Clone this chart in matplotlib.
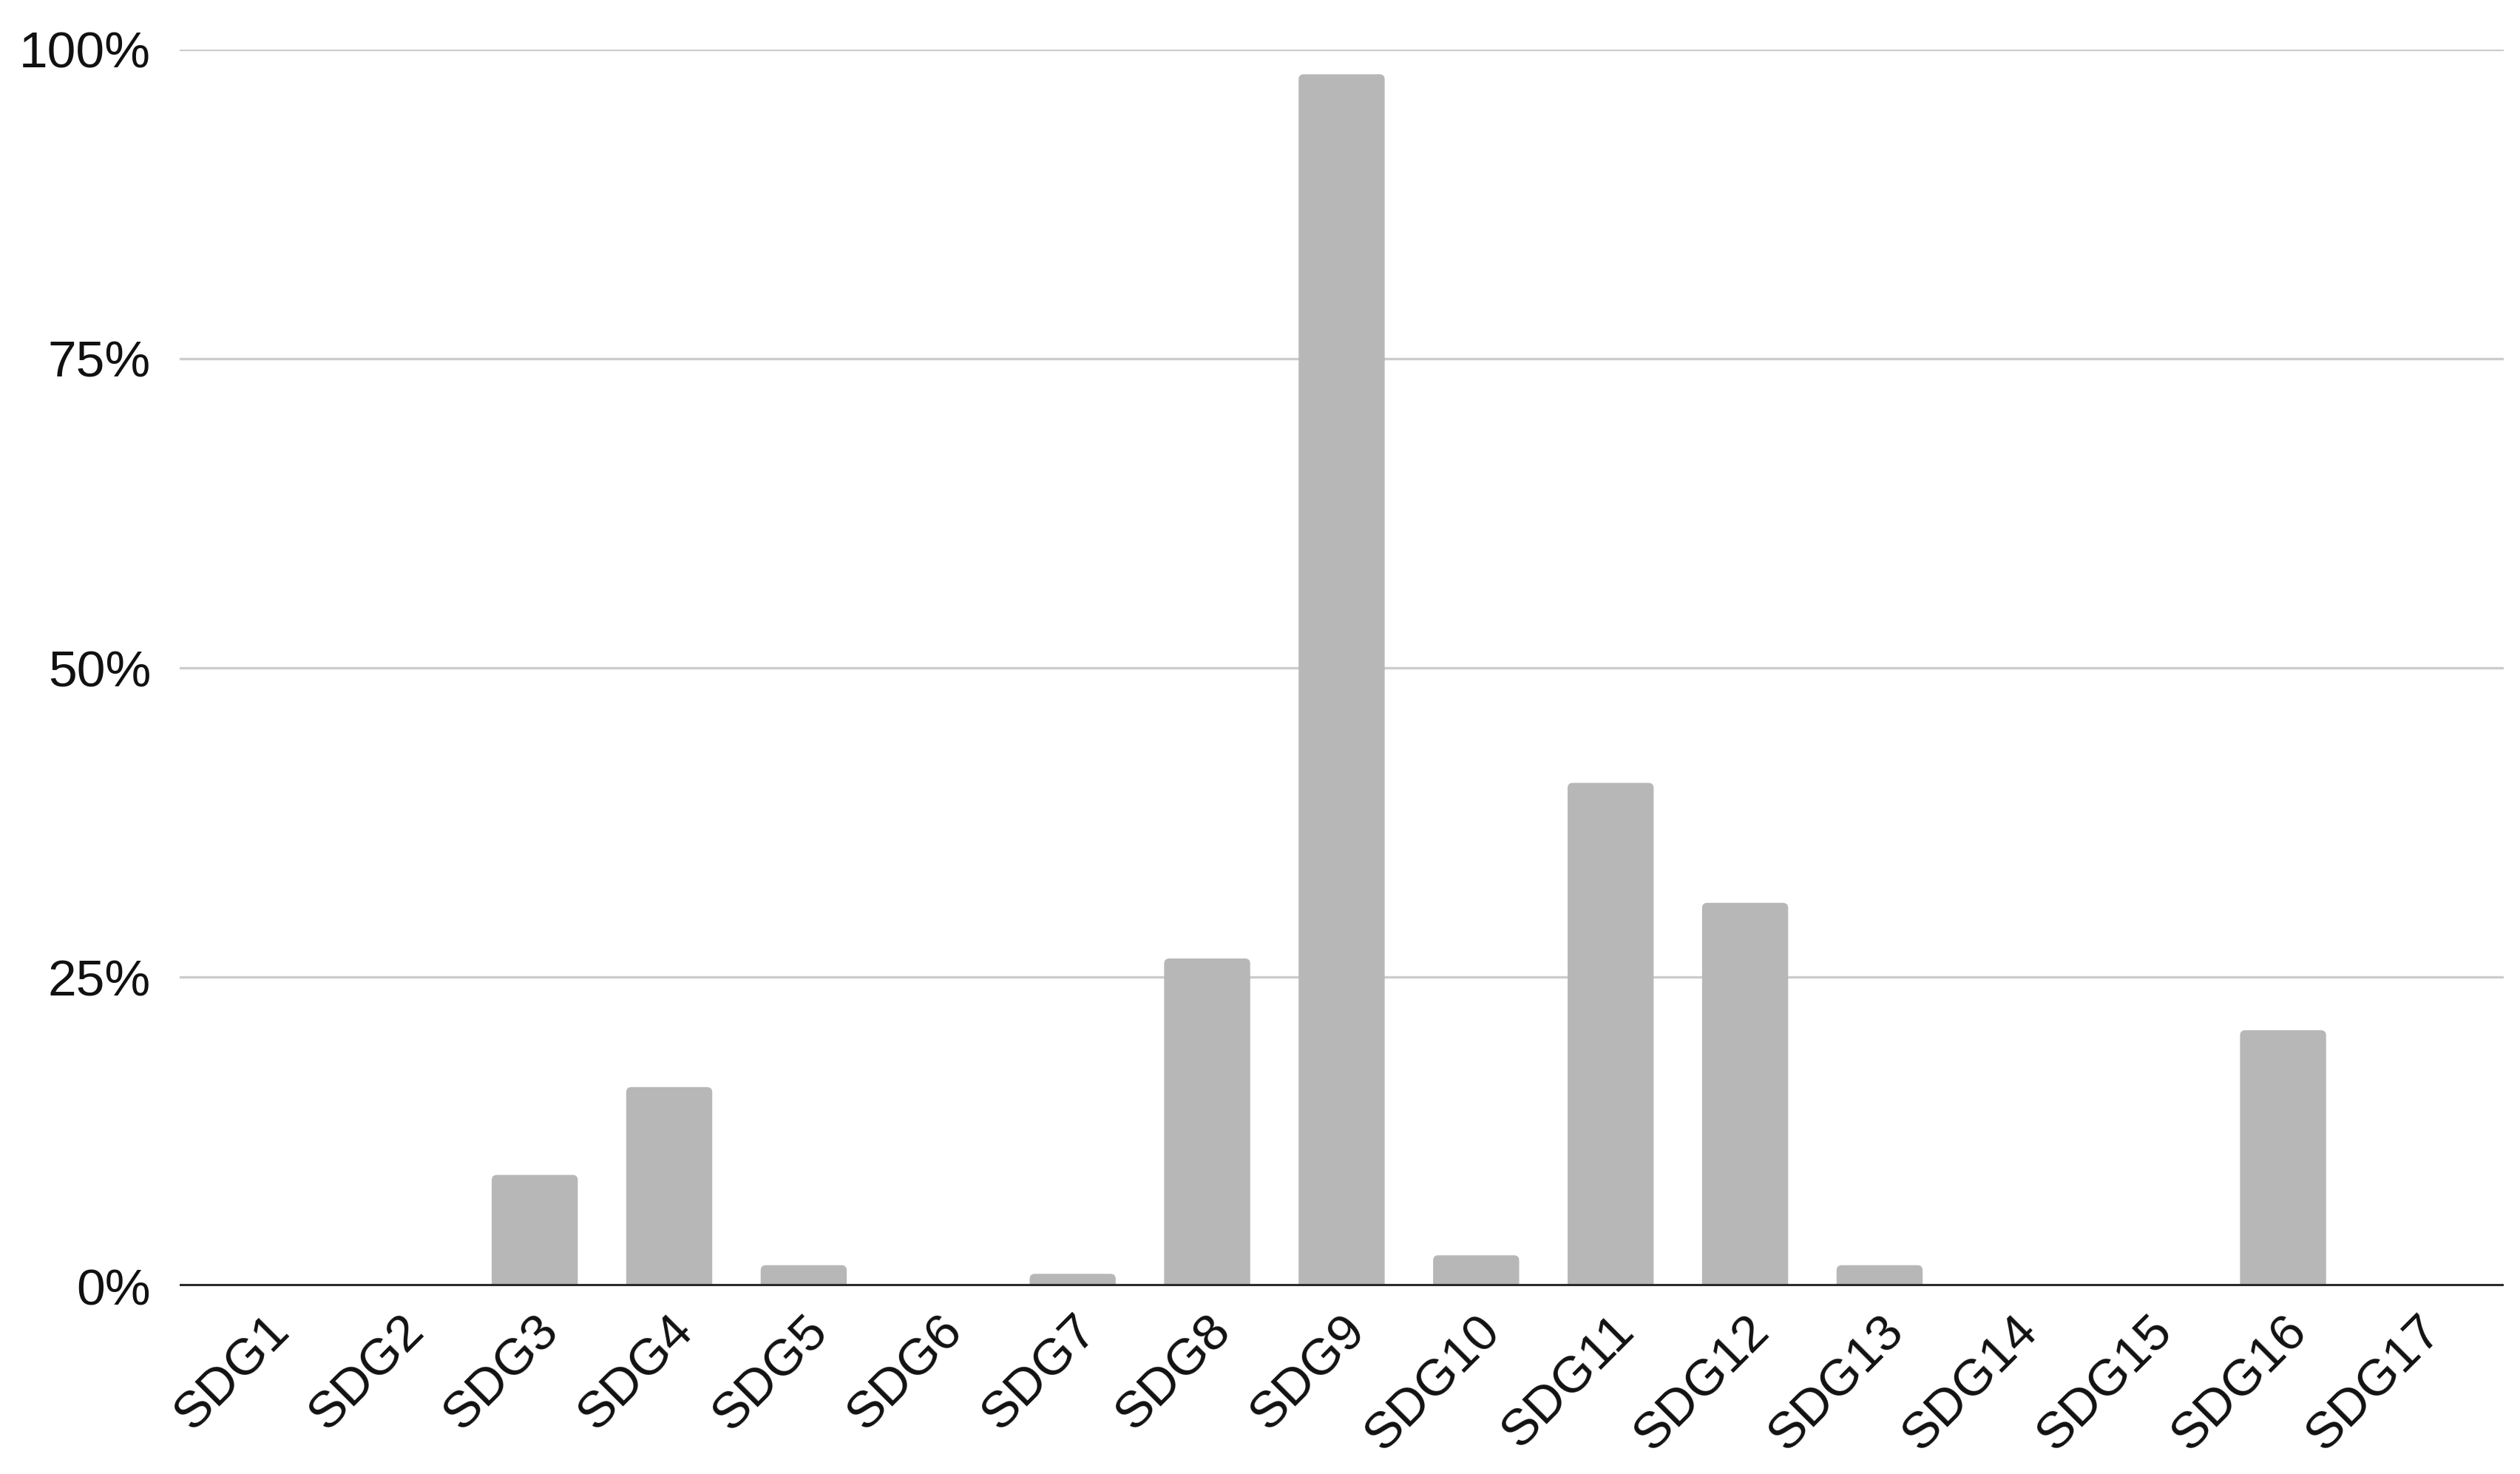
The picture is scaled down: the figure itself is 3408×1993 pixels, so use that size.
import matplotlib.pyplot as plt
import numpy as np
from matplotlib.patches import FancyBboxPatch
from matplotlib.ticker import PercentFormatter

# values (share, 0..1)
goals = [f"SDG{i}" for i in range(1, 18)]
share = [0.0, 0.0, 0.09, 0.161, 0.017, 0.0, 0.010, 0.265, 0.980,
         0.025, 0.407, 0.310, 0.017, 0.0, 0.0, 0.207, 0.0]
y_ticks = [0.0, 0.25, 0.50, 0.75, 1.0]

BAR = "#b7b7b7"
TEXT = "#111111"

plt.rcParams["font.family"] = ["Liberation Sans", "DejaVu Sans"]

fig = plt.figure(figsize=(17.04, 9.965), dpi=200)
ax = fig.add_axes([0.0713, 0.1274, 0.9222, 0.839])

x = np.arange(len(goals))
width = 0.64
ax.set_xlim(-0.64, len(goals) - 1 + 0.64)
ax.set_ylim(0.0, 1.0)

# rounded tops: compute aspect so the corner radius looks circular
fig.canvas.draw()
bb = ax.get_window_extent()
px_per_x = bb.width / (ax.get_xlim()[1] - ax.get_xlim()[0])
px_per_y = bb.height / (ax.get_ylim()[1] - ax.get_ylim()[0])
aspect = px_per_x / px_per_y
r_x = 7.0 / px_per_x

for xi, v in zip(x, share):
    if v <= 0:
        continue
    r_y = r_x * aspect
    rr = min(r_x, (v + r_y) / aspect / 2.0)
    patch = FancyBboxPatch(
        (xi - width / 2, -r_y), width, v + r_y,
        boxstyle=f"round,pad=0,rounding_size={rr}",
        mutation_aspect=aspect,
        facecolor=BAR, edgecolor="none", zorder=2,
    )
    ax.add_patch(patch)

ax.set_yticks(y_ticks)
ax.yaxis.set_major_formatter(PercentFormatter(1.0, decimals=0))
ax.grid(axis="y", color="#cccccc", linewidth=1.2, zorder=0)
ax.set_axisbelow(True)
ax.axhline(0.0, color="#2b2b2b", linewidth=2.2, zorder=3)

for side in ["top", "right", "left", "bottom"]:
    ax.spines[side].set_visible(False)

ax.tick_params(axis="y", length=0, pad=14, labelsize=25, labelcolor=TEXT)
ax.tick_params(axis="x", length=0, pad=10, labelsize=25, labelcolor=TEXT)
ax.set_xticks(x)
ax.set_xticklabels(goals, rotation=45, ha="right", va="top",
                   rotation_mode="anchor")

fig.savefig("out.png", dpi=200)
